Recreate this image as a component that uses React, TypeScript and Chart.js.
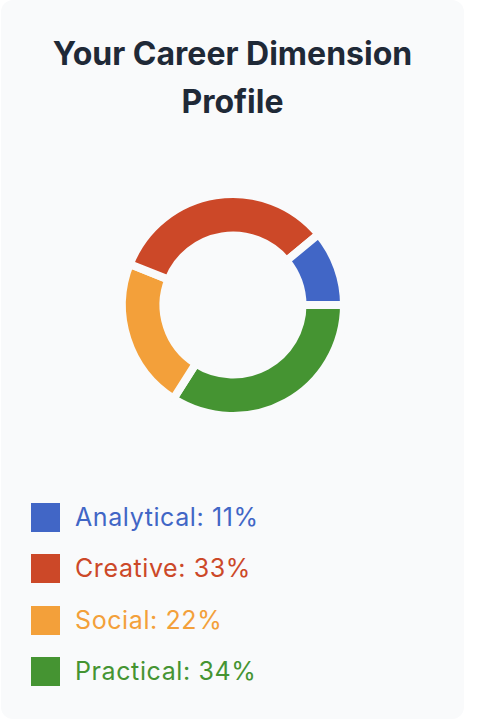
import React, { useEffect, useRef } from "react";
import { Chart, registerables } from "chart.js";

Chart.register(...registerables);

const TITLE = "Your Career Dimension Profile";
const categories = ["Analytical", "Creative", "Social", "Practical"];
const values = [11, 33, 22, 34];
const colors = ["#4166c6", "#cc4828", "#f3a03a", "#459432"];
const CARD_BG = "#f9fafb";

export default function App() {
  const canvasRef = useRef<HTMLCanvasElement | null>(null);

  useEffect(() => {
    if (!canvasRef.current) return;
    // drawn clockwise from 3 o'clock in reverse legend order
    const order = categories.map((_, i) => i).reverse();
    const chart = new Chart(canvasRef.current, {
      type: "doughnut",
      data: {
        labels: order.map((i) => categories[i]),
        datasets: [
          {
            data: order.map((i) => values[i]),
            backgroundColor: order.map((i) => colors[i]),
            borderColor: CARD_BG,
            borderWidth: 8,
            hoverOffset: 0,
          },
        ],
      },
      options: {
        animation: false,
        responsive: false,
        maintainAspectRatio: false,
        rotation: 90,
        radius: 111,
        cutout: "62.6%",
        layout: { padding: 0 },
        events: [],
        plugins: {
          legend: { display: false },
          tooltip: { enabled: false },
          title: { display: false },
        },
      },
    });
    return () => chart.destroy();
  }, []);

  return (
    <div
      style={{
        position: "absolute",
        left: 1,
        top: 0,
        width: 463,
        height: 719,
        background: CARD_BG,
        borderRadius: 12,
        fontFamily: "Inter, 'Noto Sans', sans-serif",
      }}
    >
      <div
        style={{
          position: "absolute",
          top: 30,
          left: 40,
          right: 40,
          textAlign: "center",
          fontSize: 32,
          lineHeight: "48px",
          fontWeight: 700,
          color: "#1f2937",
        }}
      >
        {TITLE}
      </div>
      <canvas
        ref={canvasRef}
        width={300}
        height={300}
        style={{ position: "absolute", left: 82, top: 155, width: 300, height: 300 }}
      />
      <div style={{ position: "absolute", left: 30, top: 503 }}>
        {categories.map((c, i) => (
          <div
            key={c}
            style={{
              display: "flex",
              alignItems: "center",
              height: 29,
              marginBottom: 22.33,
            }}
          >
            <div style={{ width: 29, height: 29, background: colors[i], marginRight: 15 }} />
            <span style={{ fontSize: 25, lineHeight: "29px", letterSpacing: "0.6px", color: colors[i] }}>
              {c}: {values[i]}%
            </span>
          </div>
        ))}
      </div>
    </div>
  );
}
